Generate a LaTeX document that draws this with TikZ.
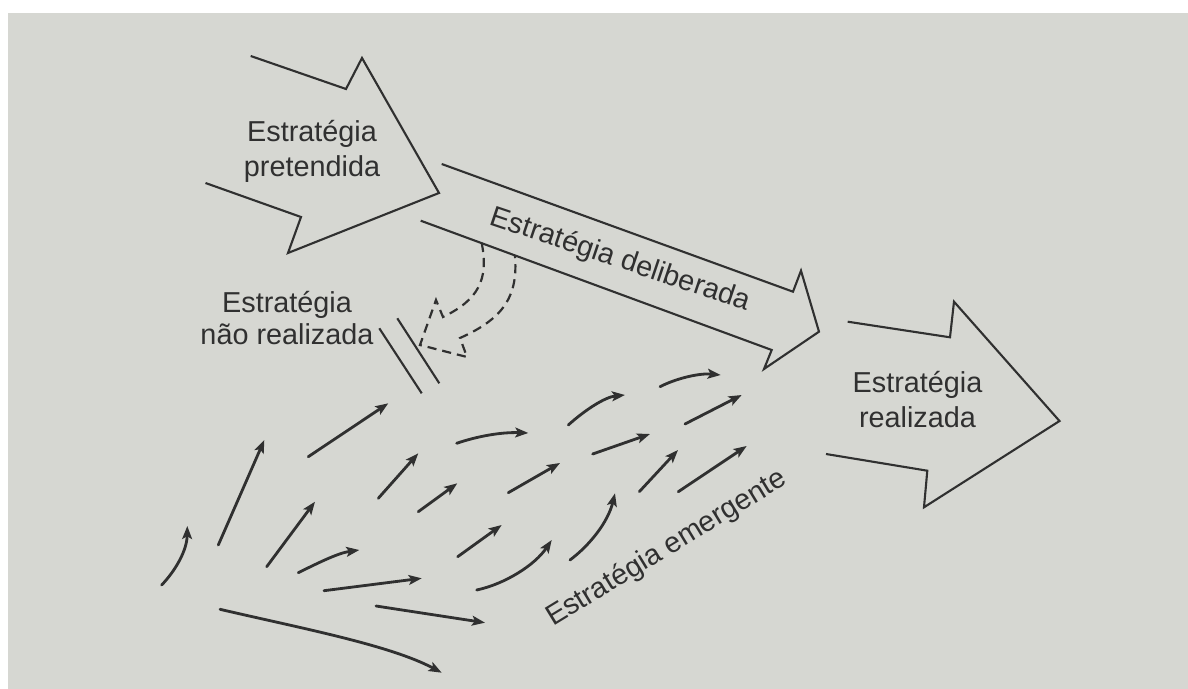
\documentclass[tikz,border=0pt]{standalone}
\usepackage{fontspec}
\setmainfont{Liberation Sans}
\usetikzlibrary{arrows.meta}
\definecolor{paper}{RGB}{214,215,210}
\definecolor{ink}{RGB}{48,48,48}
\tikzset{
  caption/.style={font=\fontsize{16.4}{19.8}\selectfont, text=ink, inner sep=0pt, anchor=base},
  block/.style={draw=ink, line width=1.2pt, line join=miter, miter limit=20},
  flow/.style={draw=ink, line width=1.6pt, line cap=round,
    -{Stealth[length=7.4pt,width=5.6pt,inset=1.6pt]}},
  unrealised/.style={draw=ink, line width=1.25pt, dash pattern=on 5.2pt off 3.4pt},
}
\begin{document}
\begin{tikzpicture}[x=0.02cm,y=-0.02cm]
  % page and grey panel
  \useasboundingbox (0,0) rectangle (1188,689);
  \fill[white] (0,0) rectangle (1188,689);
  \fill[paper] (8,13) rectangle (1188,689);

  % intended strategy
  \draw[block] (250.7,56) -- (346,89) -- (362,58) -- (439,193)
               -- (288,253) -- (301,217) -- (205.5,183);
  \node[caption] (pretA) at (312,141.7) {Estratégia};
  \node[caption] (pretB) at (312,176.7) {pretendida};

  % deliberate strategy
  \draw[block] (441.7,164) -- (793,291.7) -- (801,270.7) -- (819,331.7)
               -- (764,369) -- (771.7,350) -- (420.7,220.7);
  \node[caption, rotate=-18.6] (delib) at (617.8,267.5) {Estratégia deliberada};

  % realized strategy
  \draw[block] (847.7,321.7) -- (950,337.3) -- (954,301.7) -- (1059.5,421)
               -- (924,507.3) -- (927.3,470.7) -- (826,454);
  \node[caption] (realA) at (917.5,392.5) {Estratégia};
  \node[caption] (realB) at (917.5,428) {realizada};

  % unrealized strategy: dashed bent arrow stopped by a double bar
  \draw[unrealised] (481.7,243) .. controls (489,280) and (478,300) .. (443,317)
        -- (436,300) -- (420,345) -- (467,357) -- (460,338)
        .. controls (505,318) and (518,295) .. (515,256);
  \draw[block] (379.3,328.3) -- (421.7,393.3);
  \draw[block] (397.3,318.3) -- (439.3,383.3);
  \node[caption] (unrA) at (287,313) {Estratégia};
  \node[caption] (unrB) at (287,345) {não realizada};

  % emergent strategy: scattered small arrows
  \draw[flow] (161.7,585) .. controls (176,570) and (187,550) .. (187.3,526);
  \draw[flow] (218.3,545) -- (264.3,440);
  \draw[flow] (308.3,456.7) -- (388.3,403.3);
  \draw[flow] (266.7,566.7) -- (315,501.7);
  \draw[flow] (378.3,498.3) -- (418.3,453.3);
  \draw[flow] (298.3,572.7) .. controls (318,563) and (338,553) .. (359.3,550);
  \draw[flow] (418.3,511.7) -- (457.3,483.3);
  \draw[flow] (456.7,443.3) .. controls (478,436) and (502,432) .. (528.3,433);
  \draw[flow] (324,590.7) -- (421.7,578.3);
  \draw[flow] (220,609.3) .. controls (300,628) and (390,645) .. (441.7,672.7);
  \draw[flow] (376,606) -- (485,622.7);
  \draw[flow] (457.7,556.7) -- (501.7,525);
  \draw[flow] (476.7,590) .. controls (505,584) and (535,565) .. (551.7,540);
  \draw[flow] (508.3,492.7) -- (560,463);
  \draw[flow] (568.3,425) .. controls (585,410) and (605,397) .. (625,395);
  \draw[flow] (570,560) .. controls (590,545) and (608,522) .. (615,493.3);
  \draw[flow] (592.7,454) -- (650,434);
  \draw[flow] (660,386.7) .. controls (677,378) and (700,373) .. (720.7,375);
  \draw[flow] (639.3,491.7) -- (678,450);
  \draw[flow] (685,424) -- (741.7,395);
  \draw[flow] (678.3,491.7) -- (746.7,446);
  \node[caption, rotate=31.4] (emerg) at (670.7,555) {Estratégia emergente};
\end{tikzpicture}
\end{document}
